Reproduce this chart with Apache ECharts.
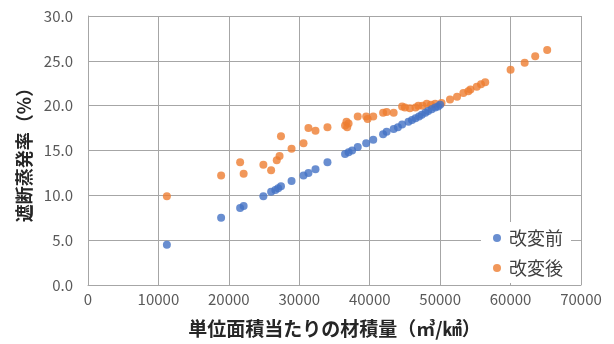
<!DOCTYPE html>
<html><head><meta charset="utf-8">
<script src="https://cdn.jsdelivr.net/npm/echarts@6/dist/echarts.min.js"></script>
<style>html,body{margin:0;padding:0;background:#fff}#c{width:614px;height:344px}</style>
</head><body><div id="c"></div>
<script>
const seriesNames = ['改変前', '改変後'];
const beforeData = [[11200,4.5],[18900,7.5],[21600,8.6],[22100,8.8],[24900,9.9],[26000,10.4],[26600,10.6],[27000,10.8],[27400,11.0],[28900,11.6],[30600,12.2],[31300,12.5],[32300,12.9],[34000,13.7],[36500,14.6],[37000,14.8],[37500,15.0],[38300,15.4],[39500,15.8],[40500,16.2],[41900,16.8],[42400,17.1],[43400,17.4],[44000,17.6],[44600,17.9],[45500,18.2],[46000,18.4],[46500,18.6],[47000,18.8],[47400,19.0],[47900,19.2],[48300,19.4],[48800,19.6],[49300,19.8],[49700,19.9],[50000,20.1]];
const afterData = [[11200,9.9],[18900,12.2],[21600,13.7],[22100,12.4],[24900,13.4],[26000,12.8],[26800,13.9],[27200,14.4],[27400,16.6],[28900,15.2],[30600,15.8],[31300,17.5],[32300,17.2],[34000,17.6],[36500,17.8],[36700,18.2],[36800,17.6],[37000,18.0],[38300,18.8],[39500,18.8],[39700,18.5],[40500,18.8],[41900,19.2],[42400,19.3],[43400,19.2],[44600,19.9],[45000,19.8],[45700,19.7],[46500,19.8],[46900,20.0],[47500,20.0],[48100,20.2],[48700,20.1],[49300,20.2],[50200,20.3],[51400,20.7],[52400,21.0],[53300,21.4],[54000,21.6],[54300,21.8],[55200,22.1],[55800,22.4],[56400,22.6],[60000,24.0],[62000,24.8],[63500,25.5],[65200,26.2]];
const xAxisTitle = '単位面積当たりの材積量（㎥/㎢）';
const yAxisTitle = '遮断蒸発率（%）';

const font = '"Noto Sans CJK JP", "Noto Sans", sans-serif';
const gridColor = '#a6a6a6';
const chart = echarts.init(document.getElementById('c'));
chart.setOption({
  animation: false,
  textStyle: { fontFamily: font },
  grid: { left: 88, right: 33, top: 16, bottom: 59, containLabel: false },
  xAxis: {
    type: 'value', min: 0, max: 70000, interval: 10000,
    name: xAxisTitle, nameLocation: 'middle', nameGap: 34,
    nameTextStyle: { fontSize: 19, color: '#262626', fontWeight: 'bold', fontFamily: font },
    axisLine: { show: true, lineStyle: { color: gridColor, width: 1 } },
    axisTick: { show: false },
    axisLabel: { color: '#595959', fontSize: 15, margin: 7, fontFamily: font, formatter: v => String(v) },
    splitLine: { show: true, lineStyle: { color: gridColor, width: 1 } }
  },
  yAxis: {
    type: 'value', min: 0, max: 30, interval: 5,
    name: yAxisTitle, nameLocation: 'middle', nameGap: 55, nameRotate: 90,
    nameTextStyle: { fontSize: 18, color: '#262626', fontWeight: 'bold', fontFamily: font },
    axisLine: { show: true, lineStyle: { color: gridColor, width: 1 } },
    axisTick: { show: false },
    axisLabel: { color: '#595959', fontSize: 15, margin: 15, fontFamily: font, formatter: v => v.toFixed(1) },
    splitLine: { show: true, lineStyle: { color: gridColor, width: 1 } }
  },
  legend: {
    orient: 'vertical', left: 481, top: 222, width: 96,
    backgroundColor: '#ffffff', padding: [7, 8, 6, 12], itemGap: 12,
    icon: 'circle', itemWidth: 8, itemHeight: 8,
    textStyle: { fontSize: 18, color: '#404040', fontFamily: font, padding: [0, 0, 0, 3] },
    data: seriesNames
  },
  series: [
    { name: seriesNames[0], type: 'scatter', data: beforeData, symbolSize: 8, itemStyle: { color: '#4472C4' }, z: 3 },
    { name: seriesNames[1], type: 'scatter', data: afterData, symbolSize: 8, itemStyle: { color: '#ED7D31' }, z: 2 }
  ]
});
</script></body></html>
